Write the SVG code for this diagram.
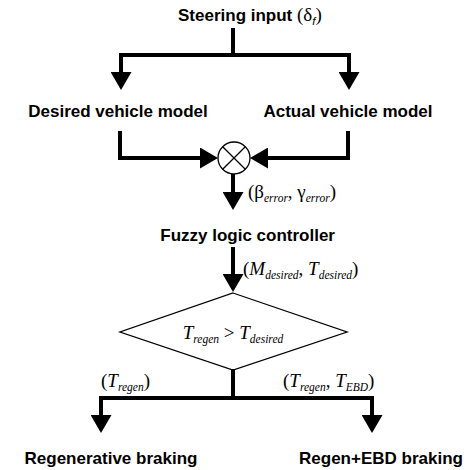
<svg xmlns="http://www.w3.org/2000/svg" width="474" height="470" viewBox="0 0 474 470">
<style>
.b{font-family:"Liberation Sans",Arial,sans-serif;font-weight:bold;font-size:17px;fill:#000}
.m{font-family:"Liberation Serif","Times New Roman",serif;font-size:19px;fill:#000}
.i{font-style:italic}
.s{font-size:11.5px;font-style:italic}
.w{fill:none;stroke:#000;stroke-width:4}
.t{fill:none;stroke:#000;stroke-width:1.3}
</style>
<defs>
<marker id="arr" viewBox="0 0 18 21" refX="0" refY="10.5" markerWidth="18" markerHeight="21" markerUnits="userSpaceOnUse" orient="auto">
<path d="M0,0 L18,10.5 L0,21 Z" fill="#000"/>
</marker>
</defs>
<rect width="474" height="470" fill="#fff"/>
<g id="connectors">
<path class="w" d="M233,28 V55"/>
<path class="w" d="M121,55 H349"/>
<path class="w" d="M121,53 V72" marker-end="url(#arr)"/>
<path class="w" d="M349,53 V72" marker-end="url(#arr)"/>
<path class="w" d="M120,131 V158 H200" marker-end="url(#arr)"/>
<path class="w" d="M348,131 V158 H268" marker-end="url(#arr)"/>
<path class="w" d="M233,174 V192" marker-end="url(#arr)"/>
<path class="w" d="M233,247 V274" marker-end="url(#arr)"/>
<path class="w" d="M233,369 V398"/>
<path class="w" d="M99,398 H374"/>
<path class="w" d="M101,396 V415" marker-end="url(#arr)"/>
<path class="w" d="M372,396 V415" marker-end="url(#arr)"/>
</g>
<g id="steering">
<text class="b" x="178" y="21" font-size="17.5">Steering input <tspan class="m" font-weight="normal">(δ</tspan><tspan class="s" font-weight="normal" dy="4">f</tspan><tspan class="m" font-weight="normal" dy="-4">)</tspan></text>
</g>
<g id="desired">
<text class="b" x="118" y="117" text-anchor="middle">Desired vehicle model</text>
</g>
<g id="actual">
<text class="b" x="348" y="117" text-anchor="middle">Actual vehicle model</text>
</g>
<g id="sum">
<circle class="t" cx="234" cy="158" r="16" stroke-width="1.6"/>
<path class="t" stroke-width="1.6" d="M222.7,146.7 L245.3,169.3 M245.3,146.7 L222.7,169.3"/>
</g>
<g id="label-error">
<text class="m" x="248" y="198">(β<tspan class="s" dy="4">error</tspan><tspan dy="-4">, </tspan>γ<tspan class="s" dy="4">error</tspan><tspan dy="-4">)</tspan></text>
</g>
<g id="fuzzy">
<text class="b" x="335" y="241" text-anchor="end" font-size="17.5">Fuzzy logic controller</text>
</g>
<g id="label-desired">
<text class="m" x="243" y="275">(<tspan class="i">M</tspan><tspan class="s" dy="4">desired</tspan><tspan dy="-4">, </tspan><tspan class="i">T</tspan><tspan class="s" dy="4">desired</tspan><tspan dy="-4">)</tspan></text>
</g>
<g id="decision">
<path class="t" d="M233,293 L347,332 L233,370 L120,332 Z"/>
<text class="m" x="233" y="339" text-anchor="middle"><tspan class="i">T</tspan><tspan class="s" dy="4">regen</tspan><tspan dy="-4"> &gt; </tspan><tspan class="i">T</tspan><tspan class="s" dy="4">desired</tspan></text>
</g>
<g id="label-regen">
<text class="m" x="101" y="387">(<tspan class="i">T</tspan><tspan class="s" dy="4">regen</tspan><tspan dy="-4">)</tspan></text>
</g>
<g id="label-regen-ebd">
<text class="m" x="283" y="387">(<tspan class="i">T</tspan><tspan class="s" dy="4">regen</tspan><tspan dy="-4">, </tspan><tspan class="i">T</tspan><tspan class="s" dy="4">EBD</tspan><tspan dy="-4">)</tspan></text>
</g>
<g id="regenerative">
<text class="b" x="111" y="464" text-anchor="middle">Regenerative braking</text>
</g>
<g id="regen-ebd">
<text class="b" x="381" y="464" text-anchor="middle">Regen+EBD braking</text>
</g>
</svg>
